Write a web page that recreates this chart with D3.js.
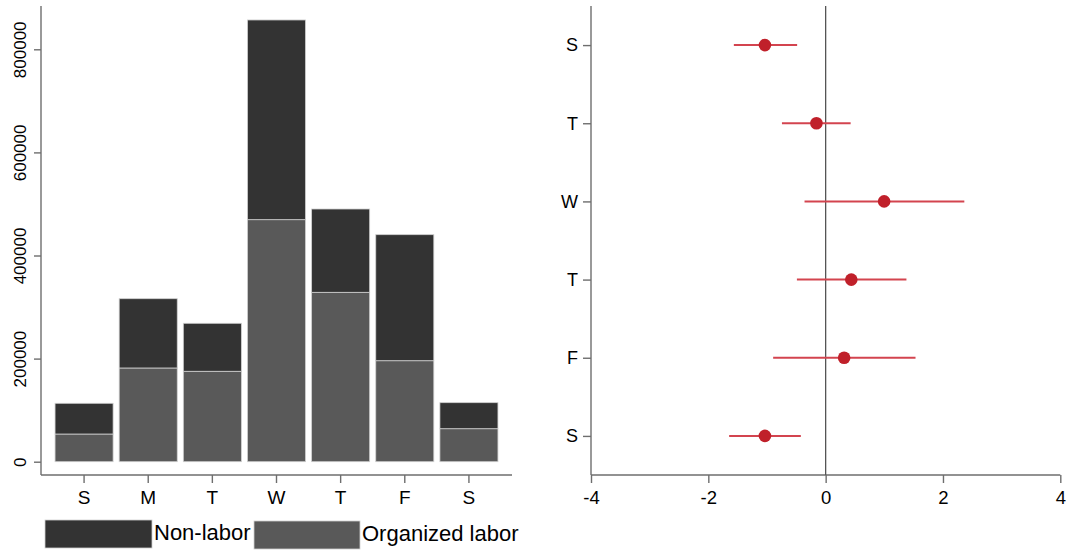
<!DOCTYPE html>
<html><head><meta charset="utf-8">
<script src="https://cdn.jsdelivr.net/npm/d3@7"></script>
<style>
body{margin:0;background:#fff}
text{font-family:"Liberation Sans",Arial,Helvetica,sans-serif;fill:#000}
</style>
</head><body>
<svg id="c" width="1070" height="551"></svg>
<script>
// ---- data ----
const days = ["S","M","T","W","T","F","S"];
const organizedLabor = [53700, 181800, 175400, 469500, 328600, 195900, 64000];
const nonLabor = [59600, 134400, 93100, 387400, 161600, 244500, 50500];
const yTicksLeft = [0, 200000, 400000, 600000, 800000];
const legendLabels = ["Non-labor", "Organized labor"];

const coefDays = ["S","T","W","T","F","S"];
const coefEst = [-1.035, -0.157, 0.997, 0.437, 0.315, -1.035];
const coefLow = [-1.565, -0.745, -0.36, -0.49, -0.895, -1.645];
const coefHigh = [-0.486, 0.426, 2.364, 1.377, 1.532, -0.423];
const xTicksRight = [-4, -2, 0, 2, 4];

const svg = d3.select("#c");
const axisColor = "#6e6e6e";
const darkCol = "#333333", midCol = "#595959";

// ---- left panel ----
const rows = days.map((d,i)=>({i, organized: organizedLabor[i], nonlabor: nonLabor[i]}));
const stack = d3.stack().keys(["organized","nonlabor"])(rows);
const xL = d3.scaleBand().domain(d3.range(days.length)).range([52, 501])
  .paddingInner(0.095).paddingOuter(0.0475);
const yL = d3.scaleLinear().domain([0, 884000]).range([461.7, 6]);
const colors = {organized: midCol, nonlabor: darkCol};

const gL = svg.append("g");
stack.forEach(layer=>{
  gL.selectAll(null).data(layer).enter().append("rect")
    .attr("x", d=>xL(d.data.i))
    .attr("width", xL.bandwidth())
    .attr("y", d=>yL(d[1]))
    .attr("height", d=>yL(d[0]) - yL(d[1]))
    .attr("fill", colors[layer.key])
    .attr("stroke", "#d0d0d0").attr("stroke-width", 0.8);
});

// left axes lines
gL.append("line").attr("x1",41).attr("x2",41).attr("y1",6).attr("y2",475)
  .attr("stroke",axisColor).attr("stroke-width",1.4);
gL.append("line").attr("x1",41).attr("x2",512).attr("y1",475).attr("y2",475)
  .attr("stroke",axisColor).attr("stroke-width",1.4);

const yAxL = d3.axisLeft(yL).tickValues(yTicksLeft).tickSize(7).tickPadding(8)
  .tickFormat(d=>String(d));
const gyL = gL.append("g").attr("transform","translate(41,0)").call(yAxL);
gyL.select(".domain").remove();
gyL.selectAll(".tick line").attr("stroke",axisColor).attr("stroke-width",1.4);
gyL.selectAll(".tick text").attr("font-size",17).attr("fill","#000")
  .each(function(){
    d3.select(this).attr("x", null).attr("dy", null).attr("text-anchor","middle")
      .attr("transform", "translate(-15,0) rotate(-90)");
  });

const xAxL = d3.axisBottom(xL).tickFormat(i=>days[i]).tickSize(8).tickPadding(8);
const gxL = gL.append("g").attr("transform","translate(0,475)").call(xAxL);
gxL.select(".domain").remove();
gxL.selectAll(".tick line").attr("stroke",axisColor).attr("stroke-width",1.4);
gxL.selectAll(".tick text").attr("font-size",19).attr("fill","#000").attr("dy","0.71em");

// legend
const legend = [
  {label: legendLabels[0], color: darkCol, x: 45, y: 520, w: 107, h: 28},
  {label: legendLabels[1], color: midCol, x: 254, y: 521, w: 106, h: 28}
];
legend.forEach(l=>{
  svg.append("rect").attr("x",l.x).attr("y",l.y).attr("width",l.w).attr("height",l.h)
    .attr("fill",l.color).attr("stroke","#d0d0d0").attr("stroke-width",0.8);
  svg.append("text").attr("x",l.x+l.w+2).attr("y",l.y+19.5).attr("font-size",22).text(l.label);
});

// ---- right panel ----
const xR = d3.scaleLinear().domain([-4,4]).range([591, 1060.3]);
const yR = d3.scalePoint().domain(d3.range(coefDays.length)).range([6, 475]).padding(0.5);
const gR = svg.append("g");

gR.append("line").attr("x1",591).attr("x2",591).attr("y1",6).attr("y2",475)
  .attr("stroke",axisColor).attr("stroke-width",1.4);
gR.append("line").attr("x1",591).attr("x2",1060.3).attr("y1",475).attr("y2",475)
  .attr("stroke",axisColor).attr("stroke-width",1.4);

const yAxR = d3.axisLeft(yR).tickFormat(i=>coefDays[i]).tickSize(8).tickPadding(5);
const gyR = gR.append("g").attr("transform","translate(591,0)").call(yAxR);
gyR.select(".domain").remove();
gyR.selectAll(".tick line").attr("stroke",axisColor).attr("stroke-width",1.4);
gyR.selectAll(".tick text").attr("font-size",18).attr("fill","#000");

const xAxR = d3.axisBottom(xR).tickValues(xTicksRight).tickSize(8).tickPadding(8)
  .tickFormat(d=>String(d));
const gxR = gR.append("g").attr("transform","translate(0,475)").call(xAxR);
gxR.select(".domain").remove();
gxR.selectAll(".tick line").attr("stroke",axisColor).attr("stroke-width",1.4);
gxR.selectAll(".tick text").attr("font-size",18.5).attr("fill","#000").attr("dy","0.71em");

// zero reference line
gR.append("line").attr("x1",xR(0)).attr("x2",xR(0)).attr("y1",6).attr("y2",475)
  .attr("stroke","#555").attr("stroke-width",1.3);

// CIs
gR.selectAll(null).data(coefDays.map((d,i)=>i)).enter().append("line")
  .attr("x1", i=>xR(coefLow[i])).attr("x2", i=>xR(coefHigh[i]))
  .attr("y1", i=>yR(i)).attr("y2", i=>yR(i))
  .attr("stroke","#d3444f").attr("stroke-width",2);
gR.selectAll(null).data(coefDays.map((d,i)=>i)).enter().append("circle")
  .attr("cx", i=>xR(coefEst[i])).attr("cy", i=>yR(i)).attr("r",6.3)
  .attr("fill","#c0202a");
</script>
</body></html>
